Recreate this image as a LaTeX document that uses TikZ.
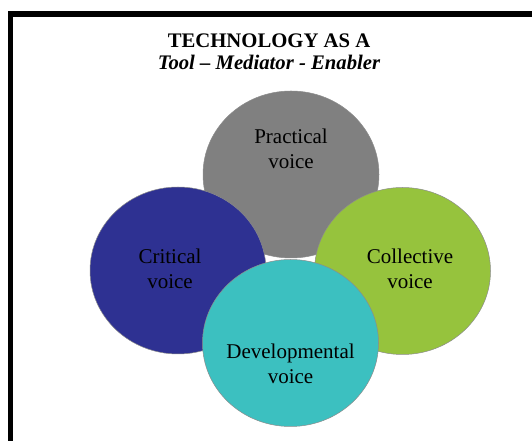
\documentclass[tikz,border=0pt]{standalone}
\usepackage{fontspec}
\setmainfont{Liberation Serif}
\usetikzlibrary{shapes.geometric}
\definecolor{practgray}{RGB}{128,128,128}
\definecolor{critblue}{RGB}{46,49,146}
\definecolor{collgreen}{RGB}{150,195,61}
\definecolor{devteal}{RGB}{60,192,192}
\tikzset{
  voice/.style={ellipse,draw=black!45,line width=0.5pt,inner sep=0pt,
    minimum width=176pt,minimum height=167pt},
  voicetext/.style={align=center,font=\fontsize{21}{25}\selectfont,inner sep=0pt},
}

\begin{document}
\begin{tikzpicture}[x=1pt,y=1pt]
\useasboundingbox (0,0) rectangle (532,441);

%frame
\draw [line width=5.5pt] (10.5,0) |- (532,427);

%title
\node [align=center,inner sep=0pt,font=\fontsize{20.7}{22.5}\selectfont\bfseries] (title) at (269,389.3)
  {TECHNOLOGY AS A\\\textit{Tool -- Mediator - Enabler}};

%practical
\node [voice,fill=practgray] (practical) at (291,266.5) {};
\node [voicetext] (practicaltxt) at ([yshift=26]practical.center) {Practical\\voice};

%critical
\node [voice,fill=critblue] (critical) at (178,170.5) {};
\node [voicetext] (criticaltxt) at ([xshift=-8,yshift=2]critical.center) {Critical\\voice};

%collective
\node [voice,fill=collgreen] (collective) at (402.5,170) {};
\node [voicetext] (collectivetxt) at ([xshift=7.5,yshift=2.6]collective.center) {Collective\\voice};

%developmental
\node [voice,fill=devteal] (developmental) at (290.5,98) {};
\node [voicetext] (developmentaltxt) at ([yshift=-21]developmental.center) {Developmental\\voice};
\end{tikzpicture}
\end{document}
